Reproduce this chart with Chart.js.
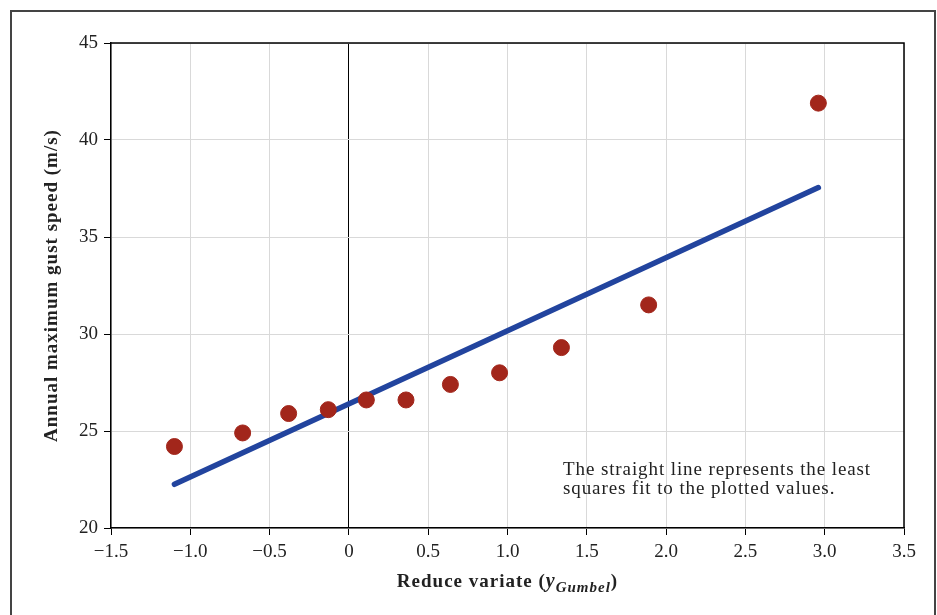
<!DOCTYPE html>
<html>
<head>
<meta charset="utf-8">
<script src="https://cdn.jsdelivr.net/npm/chart.js@4"></script>
<style>
  html, body { margin: 0; padding: 0; background: #fff; }
  #wrap { position: relative; width: 937px; height: 615px; overflow: hidden; }
  #frame { position: absolute; left: 10px; top: 10px; width: 926px; height: 640px; border: 2px solid #444; box-sizing: border-box; }
  #chart { position: absolute; left: 0; top: 0; }
</style>
</head>
<body>
<div id="wrap">
  <div id="frame"></div>
  <canvas id="chart" width="937" height="615"></canvas>
</div>
<script>
// Reduced variate (Gumbel) and annual maximum gust speed
const reducedVariate = [-1.10, -0.67, -0.38, -0.13, 0.11, 0.36, 0.64, 0.95, 1.34, 1.89, 2.96];
const gustSpeed = [24.2, 24.9, 25.9, 26.1, 26.6, 26.6, 27.4, 28.0, 29.3, 31.5, 41.9];

// least squares line end points
const fitX = [-1.10, 2.96];
const fitY = [22.25, 37.55];

const xTicks = [-1.5, -1.0, -0.5, 0, 0.5, 1.0, 1.5, 2.0, 2.5, 3.0, 3.5];
const yTicks = [20, 25, 30, 35, 40, 45];

const noteLines = ['The straight line represents the least', 'squares fit to the plotted values.'];

const serif = "'Liberation Serif', 'DejaVu Serif', serif";

const extras = {
  id: 'extras',
  afterDraw(chart) {
    const ctx = chart.ctx;
    const a = chart.chartArea;
    const xs = chart.scales.x;
    ctx.save();
    // top and right border of plot
    ctx.strokeStyle = '#000';
    ctx.lineWidth = 1.5;
    ctx.beginPath();
    ctx.moveTo(a.left, a.top);
    ctx.lineTo(a.right, a.top);
    ctx.lineTo(a.right, a.bottom);
    ctx.stroke();

    // note
    ctx.fillStyle = '#222';
    ctx.font = '19px ' + serif;
    ctx.letterSpacing = '0.9px';
    ctx.textBaseline = 'alphabetic';
    ctx.textAlign = 'left';
    noteLines.forEach((t, i) => {
      ctx.fillText(t, xs.getPixelForValue(1.35), 475 + i * 19);
    });

    // y title
    ctx.save();
    ctx.translate(52, (a.top + a.bottom) / 2);
    ctx.rotate(-Math.PI / 2);
    ctx.font = 'bold 19px ' + serif;
    ctx.letterSpacing = '1px';
    ctx.textAlign = 'center';
    ctx.textBaseline = 'middle';
    ctx.fillText('Annual maximum gust speed (m/s)', 0, 0);
    ctx.restore();

    // x title with subscript
    ctx.letterSpacing = '1px';
    const parts = [
      { t: 'Reduce variate (', f: 'bold 19px ' + serif, dy: 0 },
      { t: 'y', f: 'bold italic 20px ' + serif, dy: 0 },
      { t: 'Gumbel', f: 'bold italic 15px ' + serif, dy: 5 },
      { t: ')', f: 'bold 19px ' + serif, dy: 0 }
    ];
    let total = 0;
    parts.forEach(p => { ctx.font = p.f; p.w = ctx.measureText(p.t).width; total += p.w; });
    let x = (a.left + a.right) / 2 - total / 2;
    const base = 587;
    ctx.textBaseline = 'alphabetic';
    ctx.textAlign = 'left';
    parts.forEach(p => { ctx.font = p.f; ctx.fillText(p.t, x, base + p.dy); x += p.w; });
    ctx.restore();
  }
};

const fmtX = v => {
  if (v === 0) return '0';
  const s = Math.abs(v).toFixed(1);
  return v < 0 ? '\u2212' + s : s;
};

new Chart(document.getElementById('chart'), {
  type: 'scatter',
  data: {
    datasets: [
      {
        label: 'Fit',
        type: 'line',
        data: fitX.map((x, i) => ({ x: x, y: fitY[i] })),
        borderColor: '#22449e',
        borderWidth: 5.5,
        borderCapStyle: 'round',
        pointRadius: 0,
        fill: false,
        order: 2
      },
      {
        label: 'Observed',
        data: reducedVariate.map((x, i) => ({ x: x, y: gustSpeed[i] })),
        backgroundColor: '#a2261b',
        borderColor: '#a2261b',
        pointRadius: 8,
        pointHoverRadius: 8,
        order: 1
      }
    ]
  },
  options: {
    responsive: false,
    animation: false,
    events: [],
    layout: { padding: { top: 43, right: 33, left: 0, bottom: 0 } },
    plugins: { legend: { display: false }, tooltip: { enabled: false } },
    scales: {
      x: {
        type: 'linear',
        min: -1.5,
        max: 3.5,
        afterFit: s => { s.height = 87; },
        afterBuildTicks: s => { s.ticks = xTicks.map(v => ({ value: v })); },
        grid: {
          color: c => (c.tick && c.tick.value === 0 ? '#000' : '#d9d9d9'),
          lineWidth: 1,
          tickLength: 7,
          tickColor: '#000'
        },
        border: { color: '#000', width: 1.5 },
        ticks: {
          color: '#222',
          padding: 6,
          maxRotation: 0,
          font: { family: serif, size: 19 },
          callback: v => fmtX(v)
        }
      },
      y: {
        min: 20,
        max: 45,
        afterFit: s => { s.width = 111; },
        afterBuildTicks: s => { s.ticks = yTicks.map(v => ({ value: v })); },
        grid: { color: '#d9d9d9', lineWidth: 1, tickLength: 7, tickColor: '#000' },
        border: { color: '#000', width: 1.5 },
        ticks: {
          color: '#222',
          padding: 6,
          font: { family: serif, size: 19 },
          callback: v => String(v)
        }
      }
    }
  },
  plugins: [extras]
});
</script>
</body>
</html>
